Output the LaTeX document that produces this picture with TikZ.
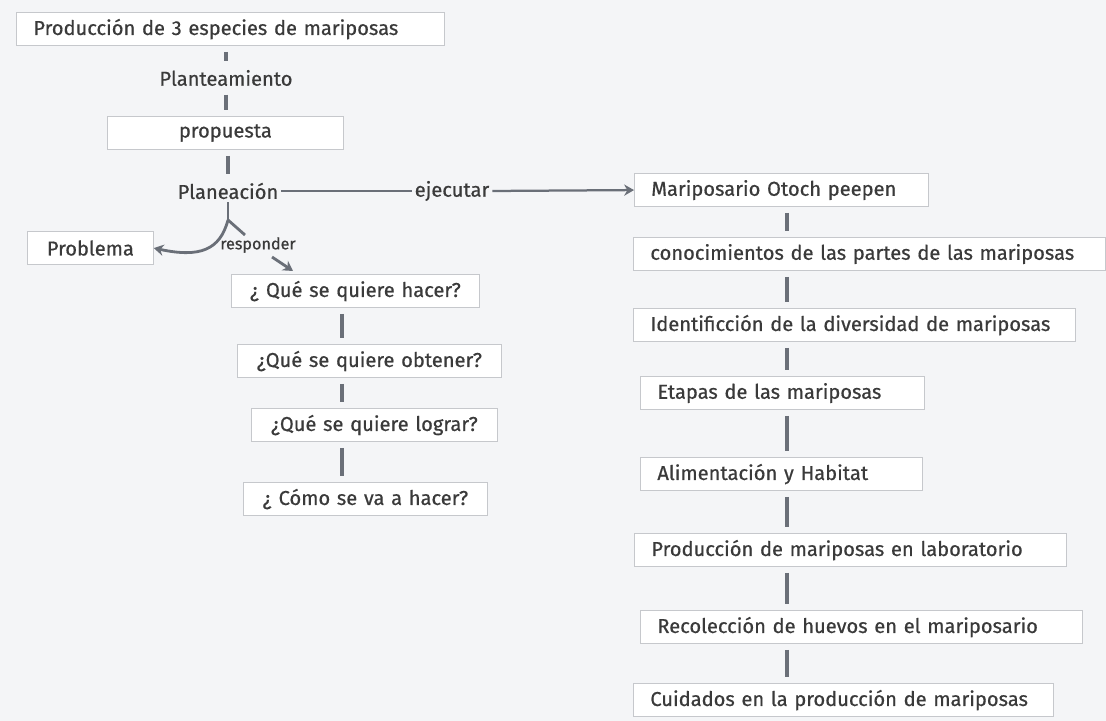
\documentclass[tikz,border=0pt]{standalone}
\usepackage{fontspec}
\setmainfont{Fira Sans}
\newfontfamily\medio{Fira Sans}[FakeBold=0.6]
\usetikzlibrary{arrows.meta}
\definecolor{fondo}{HTML}{F4F5F7}
\definecolor{borde}{HTML}{C6C8CC}
\definecolor{linea}{HTML}{6A6F78}
\definecolor{texto}{HTML}{3A3A3A}

\begin{document}
\begin{tikzpicture}[x=0.025cm,y=-0.025cm,
	caja/.style={draw=borde,fill=white,line width=0.8pt,anchor=north west,inner xsep=0.42cm,inner ysep=0pt,minimum height=0.825cm,align=left,text=texto,font=\medio\fontsize{14.3}{16}\selectfont},
	etiqueta/.style={text=texto,inner sep=2pt,font=\medio\fontsize{14.3}{16}\selectfont},
	barra/.style={draw=linea,line width=3pt,shorten <=4pt,shorten >=4pt},
	enlace/.style={draw=linea,line width=1.6pt},
	flecha/.style={enlace,-{Stealth[length=7pt,width=8pt]}}]

	\useasboundingbox[fill=fondo] (0,0) rectangle (1106,721);

	% columna izquierda
	\node[caja,text width=9.85cm] (titulo) at (16,12) {Producción de 3 especies de mariposas};
	\node[etiqueta] (plant) at (226,78) {Planteamiento};
	\node[caja,text width=5.05cm,align=center] (prop) at (107,116) {propuesta};
	\node[etiqueta] (plan) at (228,191) {Planeación};
	\node[etiqueta] (ejec) at (452,191) {ejecutar};
	\node[caja,text width=2.3cm,align=center] (prob) at (27,231) {Problema};
	\node[etiqueta,font=\medio\fontsize{11.5}{13}\selectfont] (resp) at (258,245) {responder};

	\node[caja,text width=5.35cm,align=center] (q1) at (231,274) {¿ Qué se quiere hacer?};
	\node[caja,text width=5.75cm,align=center] (q2) at (237,344) {¿Qué se quiere obtener?};
	\node[caja,text width=5.3cm,align=center] (q3) at (251,408) {¿Qué se quiere lograr?};
	\node[caja,text width=5.25cm,align=center] (q4) at (243,482) {¿ Cómo se va a hacer?};

	% columna derecha
	\node[caja,text width=6.5cm] (r1) at (634,173) {Mariposario Otoch peepen};
	\node[caja,text width=10.95cm] (r2) at (633,237) {conocimientos de las partes de las mariposas};
	\node[caja,text width=10.2cm] (r3) at (633,308) {Identificción de la diversidad de mariposas};
	\node[caja,text width=6.25cm] (r4) at (640,376) {Etapas de las mariposas};
	\node[caja,text width=6.2cm] (r5) at (640,457) {Alimentación y Habitat};
	\node[caja,text width=9.95cm] (r6) at (634,533) {Producción de mariposas en laboratorio};
	\node[caja,text width=10.2cm] (r7) at (640,610) {Recolección de huevos en el mariposario};
	\node[caja,text width=9.65cm] (r8) at (633,683) {Cuidados en la producción de mariposas};

	\coordinate (lc) at (342,0);
	\coordinate (rc) at (787,0);
	\coordinate (bif) at (228,220);
	\coordinate (rama) at (245,235);
	\coordinate (rin) at (272,257);
	\coordinate (qin) at (293,271);

	% conectores
	\draw[barra] (plant.north |- titulo.south) -- (plant.north);
	\draw[barra] (plant.south) -- (plant.south |- prop.north);
	\draw[barra] (plan.north |- prop.south) -- (plan.north);

	\draw[enlace] (plan.east) -- (ejec.west);
	\draw[flecha] (ejec.east) -- (r1.west);

	\draw[enlace,line width=2pt] (plan.south) -- (bif);
	\draw[flecha,line width=2pt] (bif) .. controls (220,250) and (200,258) .. (prob.east);
	\draw[enlace,line width=2pt] (bif) -- (rama);
	\draw[flecha,line width=2pt] (rin) -- (qin);

	\draw[barra] (q1.south -| lc) -- (q2.north -| lc);
	\draw[barra] (q2.south -| lc) -- (q3.north -| lc);
	\draw[barra] (q3.south -| lc) -- (q4.north -| lc);

	\draw[barra] (r1.south -| rc) -- (r2.north -| rc);
	\draw[barra] (r2.south -| rc) -- (r3.north -| rc);
	\draw[barra] (r3.south -| rc) -- (r4.north -| rc);
	\draw[barra] (r4.south -| rc) -- (r5.north -| rc);
	\draw[barra] (r5.south -| rc) -- (r6.north -| rc);
	\draw[barra] (r6.south -| rc) -- (r7.north -| rc);
	\draw[barra] (r7.south -| rc) -- (r8.north -| rc);
\end{tikzpicture}
\end{document}
